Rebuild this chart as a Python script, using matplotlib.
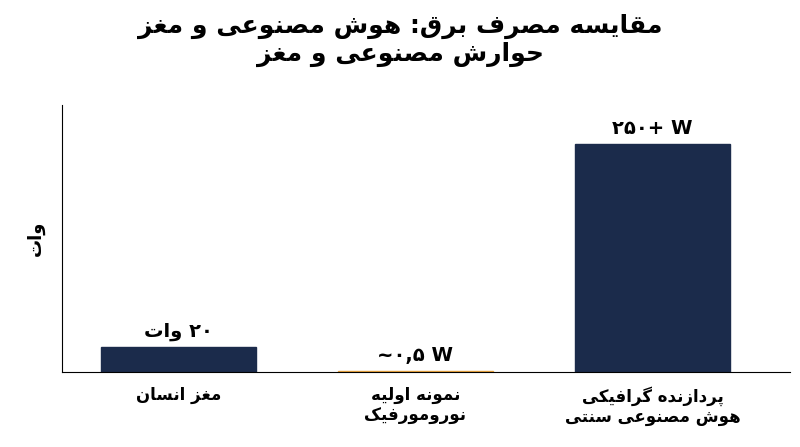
import unicodedata

import matplotlib
matplotlib.use("Agg")
import matplotlib.pyplot as plt

DUAL = set("بپتثجچحخسشصضطظعغفقکگلمنهیئ")
RIGHT = set("اآدذرزژوة")


def shape(text):
    """Tiny Persian shaper: presentation forms + visual (reversed) order."""
    out = []
    for i, ch in enumerate(text):
        if ch not in DUAL and ch not in RIGHT:
            out.append(ch)
            continue
        prev = text[i - 1] if i > 0 else ""
        nxt = text[i + 1] if i + 1 < len(text) else ""
        jp = prev in DUAL
        jn = ch in DUAL and (nxt in DUAL or nxt in RIGHT)
        form = {(True, True): "MEDIAL", (True, False): "FINAL",
                (False, True): "INITIAL", (False, False): "ISOLATED"}[(jp, jn)]
        try:
            out.append(unicodedata.lookup(f"{unicodedata.name(ch)} {form} FORM"))
        except KeyError:
            out.append(ch)
    return "".join(reversed(out))


def shape_lines(text):
    return "\n".join(shape(line) for line in text.split("\n"))


categories = ["مغز انسان", "نمونه اولیه\nنورومورفیک", "پردازنده گرافیکی\nهوش مصنوعی سنتی"]
watts = [20, 0.5, 182]
value_labels = [shape("وات") + " ۲۰", "~۰,۵ W", "۲۵۰+ W"]
colors = ["#1b2b4b", "#e8a33d", "#1b2b4b"]
title = "مقایسه مصرف برق: هوش مصنوعی و مغز\nحوارش مصنوعی و مغز"

plt.rcParams["font.family"] = ["DejaVu Sans"]
fig = plt.figure(figsize=(8, 4.47), dpi=100)
ax = fig.add_axes([62 / 800, 1 - 372 / 447, 728 / 800, 267 / 447])

x = range(len(categories))
ax.bar(x, watts, width=0.655, color=colors, edgecolor=colors, linewidth=1)
for xi, v, lab in zip(x, watts, value_labels):
    ax.text(xi, v + 5, lab, ha="center", va="bottom", fontsize=14, fontweight="bold")

ax.set_xlim(-0.49, 2.58)
ax.set_ylim(0, 213)
ax.set_yticks([])
ax.set_xticks(list(x))
ax.set_xticklabels([shape_lines(c) for c in categories], fontsize=12, fontweight="bold")
ax.tick_params(axis="x", length=0, pad=10)
ax.set_ylabel(shape("وات"), fontsize=13, fontweight="bold", labelpad=12)
ax.spines[["top", "right"]].set_visible(False)

fig.suptitle(shape_lines(title), fontsize=18, fontweight="bold", y=0.97)
fig.savefig("out.png", dpi=100)
plt.close(fig)
